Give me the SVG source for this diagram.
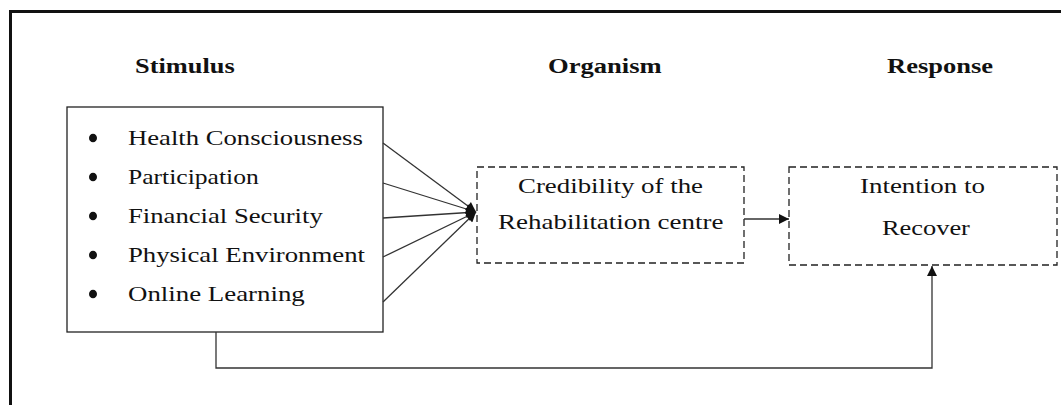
<svg xmlns="http://www.w3.org/2000/svg" width="1061" height="405" viewBox="0 0 1061 405">
<style>
  text { font-family: "Liberation Serif", "Times New Roman", serif; fill: #111; }
  .title { font-size: 20px; font-weight: bold; }
  .item { font-size: 22px; }
  .box { fill: #fff; stroke: #222; stroke-width: 1.3; }
  .dash { fill: #fff; stroke: #222; stroke-width: 1.3; stroke-dasharray: 7 4; }
  .conn { fill: none; stroke: #333; stroke-width: 1.3; }
</style>
<defs>
  <marker id="arr" viewBox="0 0 10 10" refX="10" refY="5" markerWidth="12" markerHeight="10" markerUnits="userSpaceOnUse" orient="auto">
    <path d="M0,0 L10,5 L0,10 Z" fill="#111"/>
  </marker>
</defs>
<rect width="1061" height="405" fill="#fff"/>
<g id="frame">
  <line x1="9" y1="11.5" x2="1061" y2="11.5" stroke="#111" stroke-width="3"/>
  <line x1="10.5" y1="10" x2="10.5" y2="405" stroke="#111" stroke-width="3"/>
</g>
<g id="titles">
  <text class="title" transform="translate(135,73) scale(1.32,1)">Stimulus</text>
  <text class="title" transform="translate(548,73) scale(1.33,1)">Organism</text>
  <text class="title" transform="translate(887,73) scale(1.325,1)">Response</text>
</g>
<g id="stimulus">
  <rect class="box" x="67" y="107" width="316" height="225"/>
  <ellipse cx="93" cy="138" rx="4" ry="4.3" fill="#111"/>
  <ellipse cx="93" cy="177" rx="4" ry="4.3" fill="#111"/>
  <ellipse cx="93" cy="216" rx="4" ry="4.3" fill="#111"/>
  <ellipse cx="93" cy="255" rx="4" ry="4.3" fill="#111"/>
  <ellipse cx="93" cy="294" rx="4" ry="4.3" fill="#111"/>
  <text class="item" transform="translate(128,145) scale(1.213,1)">Health Consciousness</text>
  <text class="item" transform="translate(128,184) scale(1.164,1)">Participation</text>
  <text class="item" transform="translate(128,223) scale(1.213,1)">Financial Security</text>
  <text class="item" transform="translate(128,262) scale(1.216,1)">Physical Environment</text>
  <text class="item" transform="translate(128,301) scale(1.222,1)">Online Learning</text>
</g>
<g id="organism">
  <rect class="dash" x="477" y="167" width="267" height="96"/>
  <text class="item" transform="translate(518,193) scale(1.221,1)">Credibility of the</text>
  <text class="item" transform="translate(498,229) scale(1.226,1)">Rehabilitation centre</text>
</g>
<g id="response">
  <rect class="dash" x="789" y="167" width="268" height="98"/>
  <text class="item" transform="translate(860,193) scale(1.225,1)">Intention to</text>
  <text class="item" transform="translate(882,235) scale(1.2,1)">Recover</text>
</g>
<g id="connectors">
  <line class="conn" x1="383" y1="143" x2="476" y2="212" marker-end="url(#arr)"/>
  <line class="conn" x1="383" y1="183" x2="476" y2="212" marker-end="url(#arr)"/>
  <line class="conn" x1="383" y1="218" x2="476" y2="212" marker-end="url(#arr)"/>
  <line class="conn" x1="383" y1="257" x2="476" y2="212" marker-end="url(#arr)"/>
  <line class="conn" x1="383" y1="302" x2="476" y2="212" marker-end="url(#arr)"/>
  <line class="conn" x1="744" y1="219" x2="789" y2="219" marker-end="url(#arr)"/>
  <polyline class="conn" points="216,332 216,368 932,368 932,266" marker-end="url(#arr)"/>
</g>
</svg>
